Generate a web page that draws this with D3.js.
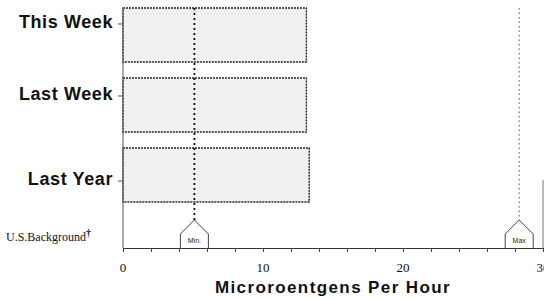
<!DOCTYPE html>
<html>
<head>
<meta charset="utf-8">
<script src="https://cdn.jsdelivr.net/npm/d3@7"></script>
<style>
  body { margin: 0; background: #fff; }
  .cat { font-family: "Liberation Sans", Arial, sans-serif; font-weight: bold; fill: #111; }
  .serif { font-family: "Liberation Serif", "Times New Roman", serif; fill: #111; }
</style>
</head>
<body>
<div id="chart"></div>
<script>
// Data
var categories = ["This Week", "Last Week", "Last Year"];
var values = [13.1, 13.1, 13.3];
var bgLabel = "U.S.Background";
var bgMarkers = ["Min.", "Max"];
var bgValues = [5.1, 28.3];
var xTicks = [0, 10, 20, 30];

var width = 544, height = 298;

var svg = d3.select("#chart")
  .append("svg")
    .attr("width", width)
    .attr("height", height);

var x = d3.scaleLinear().domain([0, 30]).range([123, 543]);
var y = d3.scaleBand()
  .domain(categories.concat([bgLabel]))
  .range([8, 272])
  .paddingInner(0.2286)
  .paddingOuter(0);

var axisY = 248;

// bars
svg.selectAll("rect.bar")
  .data(values)
  .enter().append("rect")
    .attr("class", "bar")
    .attr("x", x(0))
    .attr("y", function(d, i) { return y(categories[i]); })
    .attr("width", function(d) { return x(d) - x(0); })
    .attr("height", y.bandwidth())
    .attr("fill", "#f1f1f1")
    .attr("stroke", "#222")
    .attr("stroke-width", 1.4)
    .attr("stroke-dasharray", "2,1");

// left axis line
svg.append("line")
  .attr("x1", x(0)).attr("x2", x(0))
  .attr("y1", 8).attr("y2", axisY)
  .attr("stroke", "#555").attr("stroke-width", 1);

// right edge
svg.append("line")
  .attr("x1", x(30)).attr("x2", x(30))
  .attr("y1", 180).attr("y2", axisY)
  .attr("stroke", "#777").attr("stroke-width", 1);

// min / max reference lines
var apexY = 220, shoulderY = 234, halfW = 14;
bgValues.forEach(function(v, i) {
  svg.append("line")
    .attr("x1", x(v)).attr("x2", x(v))
    .attr("y1", 8).attr("y2", apexY)
    .attr("stroke", i === 0 ? "#111" : "#555")
    .attr("stroke-width", i === 0 ? 1.8 : 1)
    .attr("stroke-dasharray", i === 0 ? "2,3" : "1.5,3");

  svg.append("path")
    .attr("d", d3.line()([
      [x(v) - halfW, axisY], [x(v) - halfW, shoulderY], [x(v), apexY],
      [x(v) + halfW, shoulderY], [x(v) + halfW, axisY]
    ]))
    .attr("fill", "#fff")
    .attr("stroke", "#444")
    .attr("stroke-width", 1);

  svg.append("text")
    .attr("x", x(v))
    .attr("y", 243)
    .attr("text-anchor", "middle")
    .style("font-family", "'Liberation Sans', Arial, sans-serif")
    .style("font-size", "7px")
    .style("fill", "#222")
    .text(bgMarkers[i]);
});

// x axis
var xAxis = svg.append("g")
  .attr("transform", "translate(0," + axisY + ")")
  .call(d3.axisBottom(x).tickValues(d3.range(0, 31, 2)).tickSize(4).tickFormat(""));
xAxis.select(".domain").attr("stroke", "#333");
xAxis.selectAll(".tick line").attr("stroke", "#444");

svg.selectAll("text.xlab")
  .data(xTicks)
  .enter().append("text")
    .attr("class", "xlab serif")
    .attr("x", function(d) { return x(d); })
    .attr("y", 272)
    .attr("text-anchor", "middle")
    .style("font-size", "13px")
    .text(function(d) { return d; });

svg.append("text")
  .attr("class", "cat")
  .attr("x", x(15))
  .attr("y", 293)
  .attr("text-anchor", "middle")
  .style("font-size", "17px")
  .style("letter-spacing", "1.4px")
  .text("Microroentgens Per Hour");

// category labels and ticks
var labelOffsets = [-12, -10, 5];
categories.forEach(function(c, i) {
  var cy = y(c) + y.bandwidth() / 2 + labelOffsets[i];
  svg.append("line")
    .attr("x1", x(0) - 5).attr("x2", x(0))
    .attr("y1", cy + 1).attr("y2", cy + 1)
    .attr("stroke", "#555");
  svg.append("text")
    .attr("class", "cat")
    .attr("x", 113)
    .attr("y", cy)
    .attr("dy", "0.3em")
    .attr("text-anchor", "end")
    .style("font-size", "18px")
    .style("letter-spacing", "0.6px")
    .text(c);
});

var bg = svg.append("text")
  .attr("class", "serif")
  .attr("x", 6)
  .attr("y", 241)
  .style("font-size", "12px")
  .text(bgLabel);
bg.append("tspan")
  .attr("dy", "-5")
  .style("font-size", "10px")
  .style("font-weight", "bold")
  .text("\u2020");
</script>
</body>
</html>
